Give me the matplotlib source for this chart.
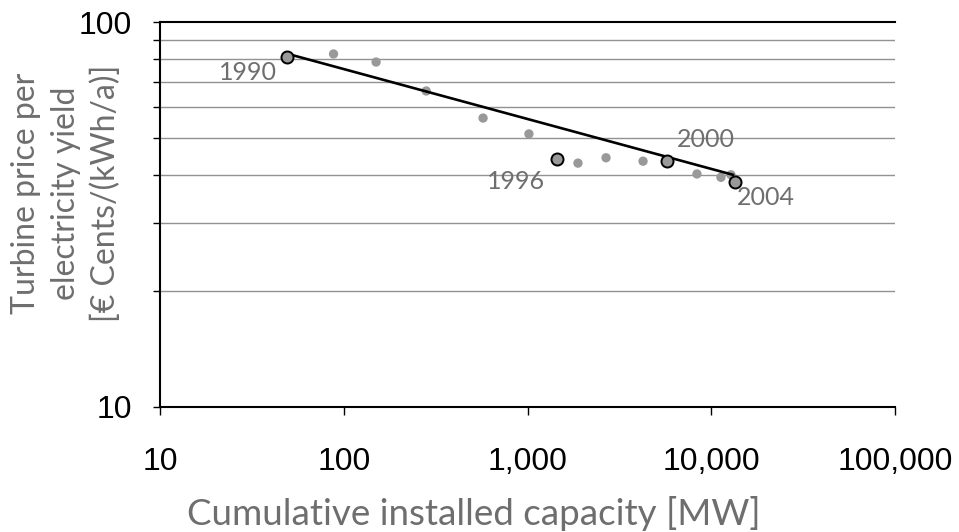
import matplotlib
matplotlib.use("Agg")
import matplotlib.pyplot as plt
from matplotlib.ticker import FixedLocator, NullFormatter, FuncFormatter
import numpy as np

# Data
years = [1990, 1991, 1992, 1993, 1994, 1995, 1996, 1997, 1998, 1999,
         2000, 2001, 2002, 2003, 2004]
capacity_mw = [49, 88, 150, 281, 573, 1018, 1446, 1882, 2675, 4254,
               5745, 8360, 11290, 12800, 13460]
price = [81.1, 82.6, 78.7, 66.2, 56.3, 51.2, 44.0, 43.0, 44.4, 43.5,
         43.5, 40.3, 39.5, 40.1, 38.4]
highlight_years = [1990, 1996, 2000, 2004]
trend_x = [48, 13120]
trend_y = [83.0, 40.1]
x_ticks = [10, 100, 1000, 10000, 100000]
y_ticks = [10, 100]
y_grid = [20, 30, 40, 50, 60, 70, 80, 90]

GREY_TXT = "#6e6e6e"
DOT = "#999999"
LABEL_FONT = ["Lato", "DejaVu Sans"]
TICK_FONT = ["Liberation Sans", "DejaVu Sans"]

fig = plt.figure(figsize=(9.59, 5.32), dpi=100)
ax = fig.add_axes([160/959, 1-407/532, (895-160)/959, (407-22)/532])
ax.set_xscale("log")
ax.set_yscale("log")
ax.set_xlim(10, 100000)
ax.set_ylim(10, 100)

for g in y_grid:
    ax.axhline(g, color="#929292", lw=1.0, zorder=0)
ax.axhline(100, color="black", lw=1.5, zorder=1, clip_on=False)

ax.plot(trend_x, trend_y, color="black", lw=1.9, zorder=3)

cx = np.array(capacity_mw); py = np.array(price)
hl = np.array([y in highlight_years for y in years])
ax.scatter(cx[~hl], py[~hl], s=45, color=DOT, edgecolors="none", zorder=2)
ax.scatter(cx[hl], py[hl], s=75, color=DOT, edgecolors="black", linewidths=1.4, zorder=4)

offsets = {1990: (-10, -15, "right"), 1996: (-12, -22, "right"),
           2000: (10, 22, "left"), 2004: (2, -15, "left")}
for yr, (dx, dy, ha) in offsets.items():
    i = years.index(yr)
    ax.annotate(str(yr), (capacity_mw[i], price[i]), xytext=(dx, dy),
                textcoords="offset pixels", ha=ha, va="center",
                fontsize=18, color=GREY_TXT, family=LABEL_FONT, zorder=5)

for s in ["top", "right"]:
    ax.spines[s].set_visible(False)
for s in ["left", "bottom"]:
    ax.spines[s].set_linewidth(1.5)

ax.xaxis.set_major_locator(FixedLocator(x_ticks))
ax.xaxis.set_minor_locator(FixedLocator([]))
ax.xaxis.set_major_formatter(FuncFormatter(lambda v, p: f"{int(round(v)):,}"))
ax.yaxis.set_major_locator(FixedLocator(y_ticks))
ax.yaxis.set_minor_locator(FixedLocator(y_grid))
ax.yaxis.set_major_formatter(FuncFormatter(lambda v, p: f"{int(round(v))}"))
ax.yaxis.set_minor_formatter(NullFormatter())
ax.tick_params(axis="x", which="major", length=6, width=1.0, pad=23, labelsize=23)
ax.tick_params(axis="y", which="both", length=5, width=1.0, pad=15, labelsize=23)
for lab in ax.get_xticklabels() + ax.get_yticklabels():
    lab.set_family(TICK_FONT)

fig.text(474/959, 1-496/532, "Cumulative installed capacity [MW]", fontsize=26.5,
         color=GREY_TXT, family=LABEL_FONT, ha="center", va="top")
fig.text(66/959, 1-193/532, "Turbine price per\nelectricity yield\n[€ Cents/(kWh/a)]",
         fontsize=23, color=GREY_TXT, family=LABEL_FONT, rotation=90,
         ha="center", va="center", multialignment="center", linespacing=1.4)

fig.savefig("out.png", dpi=100)
